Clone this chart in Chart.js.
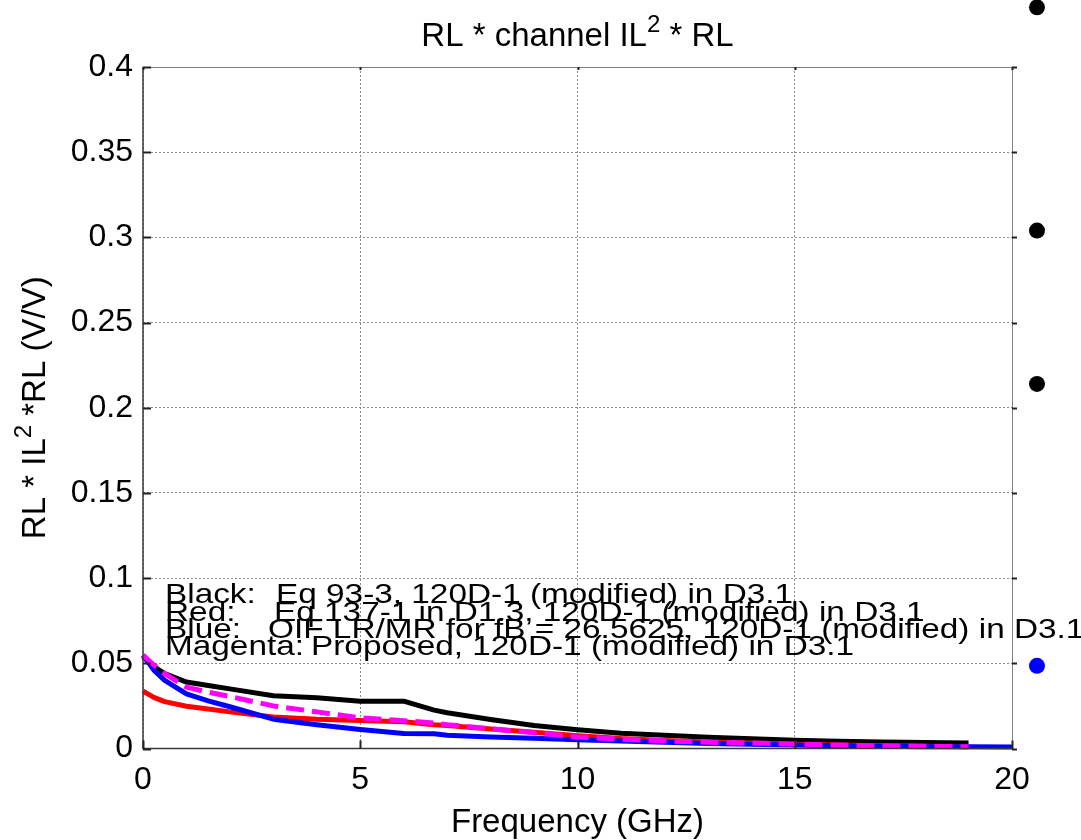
<!DOCTYPE html>
<html><head><meta charset="utf-8">
<script src="https://cdn.jsdelivr.net/npm/chart.js@4.4.1/dist/chart.umd.min.js"></script>
<style>html,body{margin:0;padding:0;background:#fff}#wrap{width:1081px;height:840px;position:relative}</style>
</head><body><div id="wrap"><canvas id="c" width="1081" height="840"></canvas></div>
<script>
const FONT = "'Liberation Sans', Arial, Helvetica, sans-serif";

// ---- data ----
const freq       = [0, 0.25, 0.5, 1, 1.5, 2, 3, 4, 5, 6, 6.7, 7, 8, 9, 10, 11, 12, 13, 14, 15, 16, 17, 18, 19, 20];
const blackVals  = [0.054, 0.048, 0.044, 0.039, 0.037, 0.035, 0.031, 0.0298, 0.0278, 0.0278, 0.0225, 0.021, 0.017, 0.0135, 0.011, 0.009, 0.0078, 0.0066, 0.0057, 0.0049, 0.0043, 0.0038, 0.0035, 0.0033, null];
const redVals    = [0.0337, 0.030, 0.0275, 0.0248, 0.0232, 0.0215, 0.0185, 0.0172, 0.0165, 0.0157, 0.014, 0.0135, 0.0115, 0.0095, 0.0075, 0.0058, 0.0047, 0.0038, 0.0032, 0.0025, 0.002, 0.0016, 0.0013, 0.001, null];
const blueVals   = [0.0548, 0.046, 0.040, 0.032, 0.028, 0.0245, 0.0172, 0.014, 0.0112, 0.0088, 0.0087, 0.0078, 0.0068, 0.006, 0.0052, 0.0044, 0.0037, 0.003, 0.0025, 0.002, 0.0016, 0.0013, 0.0011, 0.001, 0.0009];
const magentaVals= [0.0548, 0.049, 0.044, 0.036, 0.033, 0.0305, 0.025, 0.0215, 0.018, 0.0163, 0.015, 0.014, 0.0115, 0.0093, 0.0068, 0.0055, 0.0045, 0.0037, 0.0032, 0.0026, 0.002, 0.0016, 0.0013, 0.001, null];
const dotFreq    = [20.575];
const blackDots  = [0.435, 0.304, 0.214];
const blueDots   = [0.0485];
const xTickLabels = ['0', '5', '10', '15', '20'];
const yTickLabels = ['0', '0.05', '0.1', '0.15', '0.2', '0.25', '0.3', '0.35', '0.4'];
const titleParts  = ['RL * channel IL', '2', ' * RL'];
const yTitleParts = ['RL * IL', '2', ' *RL (V/V)'];
const xTitle      = 'Frequency (GHz)';
const noteHeads   = ['Black:', 'Red:', 'Blue:', 'Magenta:'];
const noteBodies  = ['Eq 93-3, 120D-1 (modified) in D3.1',
                     'Eq 137-1 in D1.3, 120D-1 (modified) in D3.1',
                     'OIF LR/MR for fB = 26.5625, 120D-1 (modified) in D3.1',
                     'Proposed, 120D-1 (modified) in D3.1'];

const toXY = arr => freq.map((f, i) => ({x: f, y: arr[i]})).filter(p => p.y !== null);
const dots = arr => arr.map(v => ({x: dotFreq[0], y: v}));

const lineDs = (label, vals, color, order, dash) => ({
  label, data: toXY(vals), borderColor: color, backgroundColor: color,
  borderWidth: 5, pointRadius: 0, borderDash: dash || [], fill: false,
  tension: 0, clip: false, order, borderCapStyle: 'butt', borderJoinStyle: 'round'
});

function drawParts(ctx, parts, size, x, y, align) {
  const supSize = Math.round(size * 0.72);
  ctx.font = size + 'px ' + FONT;
  const w0 = ctx.measureText(parts[0]).width;
  const w2 = ctx.measureText(parts[2]).width;
  ctx.font = supSize + 'px ' + FONT;
  const w1 = ctx.measureText(parts[1]).width;
  const total = w0 + w1 + w2;
  let sx = align === 'center' ? x - total / 2 : x;
  ctx.textAlign = 'left';
  ctx.textBaseline = 'alphabetic';
  ctx.font = size + 'px ' + FONT;
  ctx.fillText(parts[0], sx, y);
  ctx.font = supSize + 'px ' + FONT;
  ctx.fillText(parts[1], sx + w0, y - size * 0.42);
  ctx.font = size + 'px ' + FONT;
  ctx.fillText(parts[2], sx + w0 + w1, y);
}

// points lying outside the axes box (x > 20) are redrawn without the area test
const outsidePoints = {
  id: 'outsidePoints',
  afterDatasetsDraw(chart) {
    const big = {left: -1e4, top: -1e4, right: 1e4, bottom: 1e4};
    chart.data.datasets.forEach((ds, i) => {
      if (ds.type !== 'scatter') return;
      chart.getDatasetMeta(i).data.forEach(el => el.draw(chart.ctx, big));
    });
  }
};

const decor = {
  id: 'decor',
  afterDraw(chart) {
    const {ctx, chartArea: a, scales: {x, y}} = chart;
    ctx.save();
    ctx.setLineDash([]);
    ctx.strokeStyle = '#808080'; ctx.lineWidth = 1;
    ctx.beginPath();
    ctx.moveTo(a.left, a.top + 0.5); ctx.lineTo(a.right, a.top + 0.5);
    ctx.moveTo(a.right + 0.5, a.top); ctx.lineTo(a.right + 0.5, a.bottom);
    ctx.stroke();
    ctx.strokeStyle = '#3a3a3a'; ctx.lineWidth = 1.5;
    ctx.beginPath();
    ctx.moveTo(a.left, a.top); ctx.lineTo(a.left, a.bottom);
    ctx.lineTo(a.right + 1, a.bottom);
    ctx.stroke();
    ctx.strokeStyle = '#222'; ctx.lineWidth = 2;
    ctx.beginPath();
    y.ticks.forEach(t => {
      const py = Math.round(y.getPixelForValue(t.value)) + 0.5;
      ctx.moveTo(a.left, py); ctx.lineTo(a.left + 8, py);
      ctx.moveTo(a.right, py); ctx.lineTo(a.right + 5, py);
    });
    x.ticks.forEach(t => {
      const px = Math.round(x.getPixelForValue(t.value)) + 0.5;
      ctx.moveTo(px, a.bottom); ctx.lineTo(px, a.bottom - 8);
      ctx.moveTo(px, a.top); ctx.lineTo(px, a.top + 3);
    });
    ctx.stroke();

    ctx.fillStyle = '#000';
    drawParts(ctx, titleParts, 33, (a.left + a.right) / 2, 46, 'center');
    ctx.font = '33px ' + FONT; ctx.textAlign = 'center'; ctx.textBaseline = 'alphabetic';
    ctx.fillText(xTitle, (a.left + a.right) / 2, 832);
    ctx.save();
    ctx.translate(45, (a.top + a.bottom) / 2);
    ctx.rotate(-Math.PI / 2);
    drawParts(ctx, yTitleParts, 33, 0, 0, 'center');
    ctx.restore();

    const baseY = [603, 620.5, 638, 654.5];
    const bodyX = [276, 274, 268, 311];
    const sx = 1.17;
    ctx.font = '28.5px ' + FONT; ctx.textAlign = 'left'; ctx.textBaseline = 'alphabetic';
    noteHeads.forEach((h, i) => {
      ctx.save();
      ctx.translate(165, baseY[i]); ctx.scale(sx, 1);
      ctx.fillText(h, 0, 0);
      ctx.restore();
      ctx.save();
      ctx.translate(bodyX[i], baseY[i]); ctx.scale(sx, 1);
      ctx.fillText(noteBodies[i], 0, 0);
      ctx.restore();
    });
    ctx.restore();
  }
};

new Chart(document.getElementById('c'), {
  type: 'line',
  data: {
    datasets: [
      lineDs('Black', blackVals, '#000000', 4),
      lineDs('Red', redVals, '#ff0000', 3),
      lineDs('Blue', blueVals, '#0000ff', 2),
      lineDs('Magenta', magentaVals, '#ff00ff', 1, [18, 8]),
      {type: 'scatter', label: 'black pts', data: dots(blackDots), pointRadius: 8, pointBackgroundColor: '#000', backgroundColor: '#000', borderColor: '#000', pointBorderWidth: 0, showLine: false, clip: false, order: 0},
      {type: 'scatter', label: 'blue pts', data: dots(blueDots), pointRadius: 8, pointBackgroundColor: '#0000ff', backgroundColor: '#0000ff', borderColor: '#0000ff', pointBorderWidth: 0, showLine: false, clip: false, order: 0}
    ]
  },
  options: {
    responsive: false, animation: false, devicePixelRatio: 1,
    layout: {padding: {top: 67, right: 69, left: 0, bottom: 0}},
    plugins: {legend: {display: false}, tooltip: {enabled: false}, title: {display: false}},
    scales: {
      x: {
        type: 'linear', min: 0, max: 20,
        ticks: {stepSize: 5, color: '#000', font: {family: FONT, size: 32}, padding: 12, maxRotation: 0,
                callback: v => xTickLabels[Math.round(v / 5)]},
        grid: {color: '#8a8a8a', lineWidth: 1, drawTicks: false},
        border: {display: false, dash: [2, 2]},
        afterFit(s) { s.height = 91.5; }
      },
      y: {
        type: 'linear', min: 0, max: 0.4,
        ticks: {stepSize: 0.05, color: '#000', font: {family: FONT, size: 32}, padding: 10,
                callback: v => yTickLabels[Math.round(v / 0.05)]},
        grid: {color: '#8a8a8a', lineWidth: 1, drawTicks: false},
        border: {display: false, dash: [2, 2]},
        afterFit(s) { s.width = 143; }
      }
    }
  },
  plugins: [outsidePoints, decor]
});
</script>
</body></html>
